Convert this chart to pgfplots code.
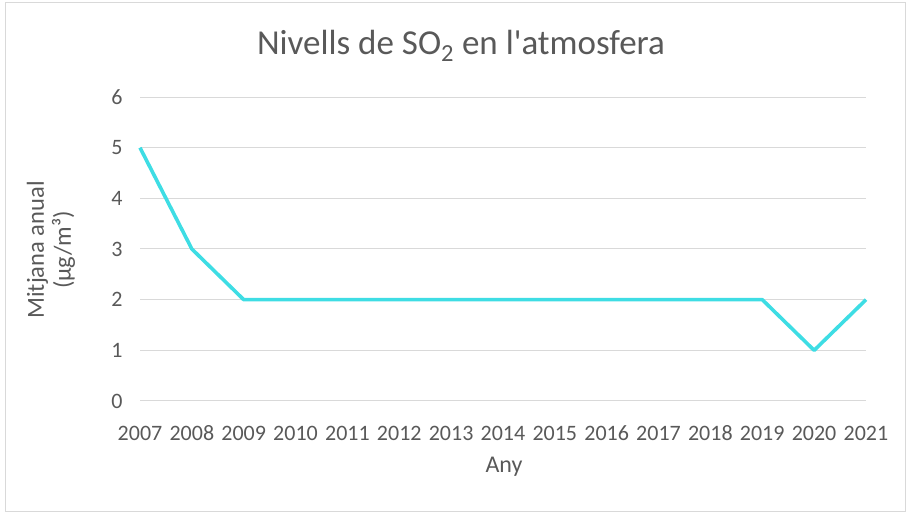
\documentclass[border=0pt]{standalone}
\usepackage{pgfplots}
\pgfplotsset{compat=1.18}
\usepackage{fontspec}
\setmainfont{Carlito}
\newfontfamily\titlefont{Carlito}[Ligatures=TeXOff]
\definecolor{txt}{HTML}{595959}
\definecolor{grd}{HTML}{D9D9D9}
\definecolor{ln}{HTML}{3EDDE4}
\begin{document}
\begin{tikzpicture}[x=1pt,y=1pt]
\path[use as bounding box] (0,0) rectangle (910,513);
\draw[grd, line width=0.8pt] (5,2) rectangle (905,511);
\begin{axis}[
  at={(140pt,112pt)}, anchor=south west,
  width=726pt, height=304pt, scale only axis,
  xmin=2007, xmax=2021, ymin=0, ymax=6,
  xtick={2007,...,2021}, ytick={0,...,6},
  /pgf/number format/assume math mode=true,
  xticklabel={\pgfmathprintnumber[1000 sep={}]{\tick}},
  ymajorgrids, grid style={grd, line width=1pt},
  axis line style={draw=none},
  axis x line*=bottom,
  major tick length=0pt,
  tick label style={font=\fontsize{22}{24}\selectfont, text=txt},
  xticklabel style={anchor=base, yshift=-40pt},
  yticklabel style={xshift=-14pt},
  clip=false,
]
\addplot[ln, line width=3.6pt, line join=round] coordinates {
(2007,5) (2008,3) (2009,2) (2010,2) (2011,2) (2012,2) (2013,2) (2014,2)
(2015,2) (2016,2) (2017,2) (2018,2) (2019,2) (2020,1) (2021,2)};
\end{axis}
\node[text=txt, font=\titlefont\fontsize{35}{38}\selectfont] at (461,467) {Nivells de SO\textsubscript{2} en l'atmosfera};
\node[text=txt, font=\fontsize{24.5}{27}\selectfont, rotate=90, align=center] at (51,263) {Mitjana anual\\(µg/m³)};
\node[text=txt, font=\fontsize{24}{26}\selectfont] at (504,46) {Any};
\end{tikzpicture}
\end{document}
